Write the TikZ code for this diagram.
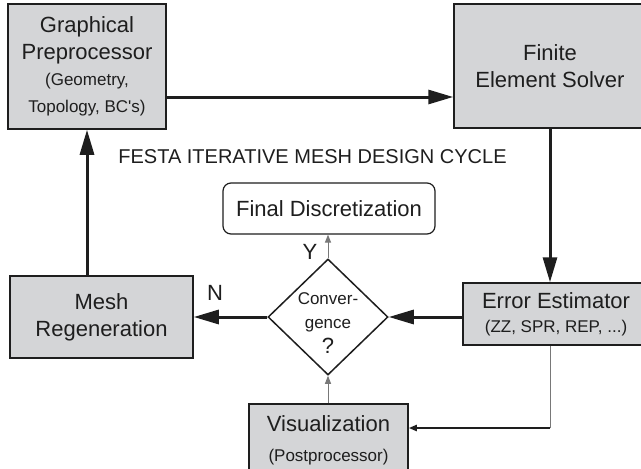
\documentclass[tikz,border=0pt]{standalone}
\usepackage{fontspec}
\setmainfont{Liberation Sans}
\usetikzlibrary{arrows.meta,shapes.geometric}
\definecolor{boxgray}{RGB}{212,213,215}
\definecolor{ink}{RGB}{30,30,30}
\definecolor{thin}{RGB}{120,120,120}
\newcommand\FigL{\fontsize{22}{27}\selectfont}
\newcommand\FigS{\fontsize{17}{24}\selectfont}
\newcommand\FigT{\fontsize{20}{24}\selectfont}
\begin{document}
\begin{tikzpicture}[x=1pt,y=-1pt,
  box/.style={draw=ink, line width=1.5pt, fill=boxgray, text=ink, inner sep=0pt, align=center, font=\FigL},
  bigarrow/.style={draw=ink, line width=3pt, -{Triangle[length=25pt,width=14pt]}},
  thinarrow/.style={draw=thin, line width=1pt, -{Triangle[length=8pt,width=6pt]}},
  lbl/.style={text=ink, inner sep=0pt, font=\FigL}
]
\useasboundingbox (0,0) rectangle (641,469);
\clip (0,0) rectangle (641,469);
\fill[white] (0,0) rectangle (641,469);

\node[box, minimum width=158pt, minimum height=125pt] (pre) at (87,66.5)
  {Graphical\\Preprocessor\\[-1pt]\FigS (Geometry,\\\FigS Topology, BC\textquotesingle s)};
\node[box, minimum width=192pt, minimum height=124pt] (fes) at (550,66)
  {Finite\\Element Solver};
\node[box, minimum width=186pt, minimum height=62pt] (ee) at (556,314)
  {Error Estimator\\[-3pt]\FigS (ZZ, SPR, REP, ...)};
\node[box, minimum width=183pt, minimum height=82pt] (mesh) at (101.5,317)
  {Mesh\\Regeneration};
\node[box, minimum width=159pt, minimum height=72pt] (vis) at (328.5,440)
  {Visualization\\[3pt]\FigS (Postprocessor)};
\node[draw=ink, line width=1.2pt, fill=white, rounded corners=8pt, minimum width=212pt, minimum height=51pt, inner sep=0pt, text=ink, font=\FigL] (final) at (329,208.5)
  {Final Discretization};
\node[diamond, draw=ink, line width=1.5pt, fill=white, minimum width=120pt, minimum height=116pt, inner sep=0pt] (conv) at (328,317) {};
\node[text=ink, inner sep=0pt, align=center, font=\FigS] (convtxt) at ([yshift=-6pt]conv.center)
  {Conver-\\gence\\[1pt]\FigL ?};

\node[lbl, font=\FigT] (title) at (312.5,157) {FESTA ITERATIVE MESH DESIGN CYCLE};
\node[lbl] (ylab) at (310,252) {Y};
\node[lbl] (nlab) at (215,293) {N};

\draw[bigarrow] ([yshift=-30.5pt]pre.east) coordinate (pa) -- (pa -| fes.west);
\draw[bigarrow] (fes.south) -- (fes.south |- ee.north);
\draw[bigarrow] (ee.west |- conv.east) -- (conv.east);
\draw[bigarrow] (conv.west) -- (conv.west -| mesh.east);
\draw[bigarrow] (pre.south |- mesh.north) -- (pre.south);
\draw[thinarrow] (conv.north) -- (conv.north |- final.south);
\draw[thinarrow] (conv.south |- vis.north) -- (conv.south);
\draw[draw=thin, line width=1pt] (fes.south |- ee.south) -- ([yshift=12pt]fes.south |- vis.east) coordinate (vc);
\draw[draw=ink, line width=2pt, -{Triangle[length=8pt,width=6pt]}] (vc) -- (vc -| vis.east);
\end{tikzpicture}
\end{document}
